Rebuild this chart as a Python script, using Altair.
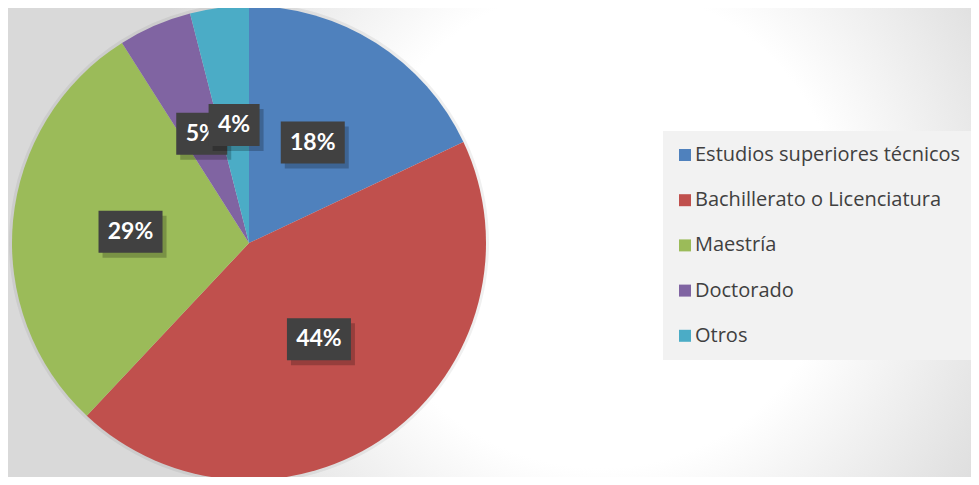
import altair as alt
import pandas as pd

categories = ["Estudios superiores técnicos", "Bachillerato o Licenciatura", "Maestría", "Doctorado", "Otros"]
values = [18, 44, 29, 5, 4]
labels = ["18%", "44%", "29%", "5%", "4%"]
colors = ["#4f81bd", "#c0504d", "#9bbb59", "#8064a2", "#4bacc6"]

df = pd.DataFrame({"cat": categories, "val": values, "lab": labels, "idx": list(range(len(categories)))})

W, H = 963, 469
CX, CY, R = 241, 235, 237
LR = 119

base = alt.Chart(df)

grad = alt.RadialGradient(
    gradient="radial",
    stops=[
        alt.GradientStop(offset=0, color="#ffffff"),
        alt.GradientStop(offset=0.5, color="#ffffff"),
        alt.GradientStop(offset=0.75, color="#ececec"),
        alt.GradientStop(offset=1, color="#d9d9d9"),
    ],
    x1=0.615, y1=0.484, r1=0, x2=0.615, y2=0.484, r2=0.5,
)

bg = base.transform_filter("datum.idx == 0").mark_rect(fill=grad).encode(
    x=alt.value(0), x2=alt.value(W), y=alt.value(0), y2=alt.value(H)
)

glow = base.mark_arc(radius=R + 3, color="#000000", opacity=0.06).encode(
    theta=alt.Theta("val:Q", stack=True),
    order=alt.Order("idx:Q"),
    x=alt.value(CX),
    y=alt.value(CY),
)

pie = base.mark_arc(radius=R).encode(
    theta=alt.Theta("val:Q", stack=True),
    color=alt.Color(
        "cat:N",
        sort=categories,
        scale=alt.Scale(domain=categories, range=colors),
        legend=alt.Legend(
            title=None, orient="none", legendX=655, legendY=123,
            fillColor="#f2f2f2", padding=14, symbolType="square", symbolSize=144,
            symbolStrokeWidth=0, labelFontSize=20, labelFont="Open Sans", labelColor="#404040",
            rowPadding=25.2, labelLimit=400, labelOffset=0, symbolOffset=-2,
        ),
    ),
    order=alt.Order("idx:Q"),
    x=alt.value(CX),
    y=alt.value(CY),
)

lbl = base.transform_window(
    cum="sum(val)", sort=[alt.SortField("idx")], frame=[None, 0]
).transform_joinaggregate(tot="sum(val)").transform_calculate(
    ang="(datum.cum - datum.val/2)/datum.tot*2*PI"
).transform_calculate(
    lx=f"{CX} + {LR}*sin(datum.ang)",
    ly=f"{CY} - {LR}*cos(datum.ang)",
    bw="13*length(datum.lab) + 25",
).transform_calculate(
    bx1="datum.lx - datum.bw/2",
    bx2="datum.lx + datum.bw/2",
    by1="datum.ly - 21",
    by2="datum.ly + 21",
    sx1="datum.lx - datum.bw/2 + 4",
    sx2="datum.lx + datum.bw/2 + 4",
    sy1="datum.ly - 21 + 5",
    sy2="datum.ly + 21 + 5",
)


def label_layers(flt):
    src = lbl.transform_filter(flt)
    shadow = src.mark_rect(fill="#000000", opacity=0.22).encode(
        x=alt.X("sx1:Q", scale=None, axis=None), x2="sx2:Q",
        y=alt.Y("sy1:Q", scale=None, axis=None), y2="sy2:Q",
    )
    box = src.mark_rect(fill="#414141").encode(
        x=alt.X("bx1:Q", scale=None, axis=None), x2="bx2:Q",
        y=alt.Y("by1:Q", scale=None, axis=None), y2="by2:Q",
    )
    txt = src.mark_text(font="Lato", fontWeight="bold", fontSize=23, color="#ffffff",
                        align="center", baseline="middle").encode(
        x=alt.X("lx:Q", scale=None, axis=None),
        y=alt.Y("ly:Q", scale=None, axis=None),
        text="lab:N",
    )
    return [shadow, box, txt]


layers = [bg, glow, pie] + label_layers("datum.idx < 4") + label_layers("datum.idx == 4")

chart = alt.layer(*layers).properties(
    width=W, height=H, padding=0, autosize=alt.AutoSizeParams(type="none")
).configure_view(stroke=None)

chart.save("out.html", embed_options={"renderer": "svg", "actions": False})
